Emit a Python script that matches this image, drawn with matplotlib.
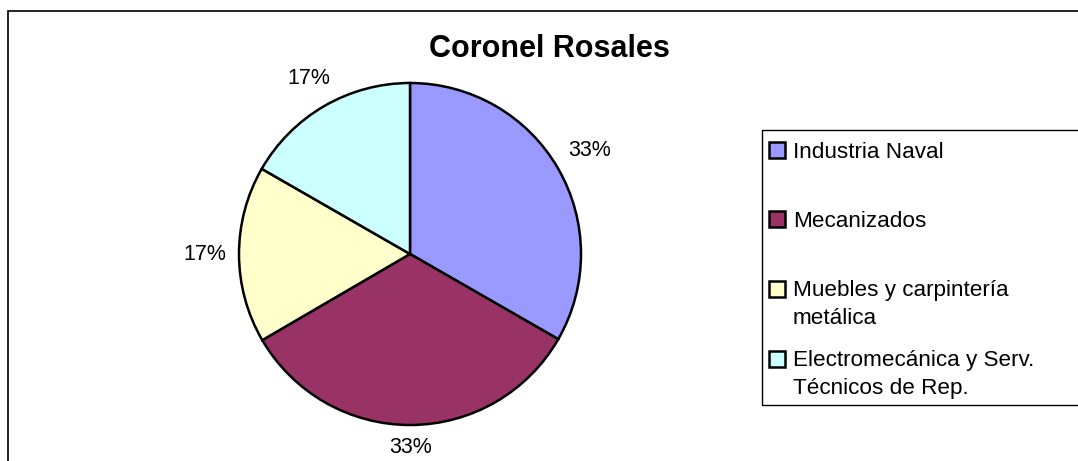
import numpy as np
import matplotlib
matplotlib.use('Agg')
import matplotlib.pyplot as plt
from matplotlib.patches import Rectangle

plt.rcParams['font.family'] = ['Liberation Sans', 'DejaVu Sans']

# data
categories = ['Industria Naval', 'Mecanizados',
              'Muebles y carpintería\nmetálica',
              'Electromecánica y Serv.\nTécnicos de Rep.']
values = [33.3, 33.3, 16.7, 16.7]
colors = ['#9999FF', '#993366', '#FFFFCC', '#CCFFFF']
title = 'Coronel Rosales'

W, H = 1078, 461
fig = plt.figure(figsize=(W/100, H/100), dpi=100)

# outer chart frame (runs off right/bottom edges)
fig.patches.append(Rectangle((7.5/W, -0.1), 1.2, 1.1 - 11.5/H, transform=fig.transFigure,
                             fill=False, edgecolor='black', linewidth=1.2))

# pie axes: center (410,254) px, radius 171 px
cx, cy, r = 410, 254, 171
ax = fig.add_axes([(cx - r)/W, (H - cy - r)/H, 2*r/W, 2*r/H])
wedges, texts = ax.pie(values, colors=colors, startangle=90, counterclock=False,
                       labels=['%d%%' % round(v) for v in values], labeldistance=1.18,
                       wedgeprops=dict(edgecolor='black', linewidth=1.8),
                       textprops=dict(fontsize=15.5))
ax.set_xlim(-1, 1)
ax.set_ylim(-1, 1)
ax.set_aspect('equal')
ax.axis('off')

# place labels "outside end": text box sits a fixed gap outside the rim
fig.canvas.draw()
rend = fig.canvas.get_renderer()
gap = 13
for w, t in zip(wedges, texts):
    t.set_ha('center')
    t.set_va('center')
    ang = np.deg2rad((w.theta1 + w.theta2) / 2)
    bb = t.get_window_extent(rend)
    hw, hh = bb.width / 2, 9
    ext = abs(np.cos(ang)) * hw + abs(np.sin(ang)) * hh
    d = (r + gap + ext) / r
    t.set_position((d * np.cos(ang), d * np.sin(ang)))

fig.text(549/W, 1 - 57/H, title, ha='center', va='baseline', fontsize=22, fontweight='bold')

# legend box drawn by hand
fig.patches.append(Rectangle((761.5/W, 1 - 404.5/H), (W + 10 - 761.5)/W, (404.5 - 130.5)/H,
                             transform=fig.transFigure, fill=False, edgecolor='black',
                             linewidth=1.0))
baselines = [158, 227, 296, 366]
for lab, col, y in zip(categories, colors, baselines):
    fig.patches.append(Rectangle((768.5/W, 1 - (y + 0.5)/H), 16/W, 16/H,
                                 transform=fig.transFigure, facecolor=col,
                                 edgecolor='black', linewidth=1.8))
    for i, line in enumerate(lab.split('\n')):
        fig.text(793/W, 1 - (y + 28*i)/H, line, ha='left', va='baseline', fontsize=16.2)

fig.savefig('out.png', dpi=100, facecolor='white')
